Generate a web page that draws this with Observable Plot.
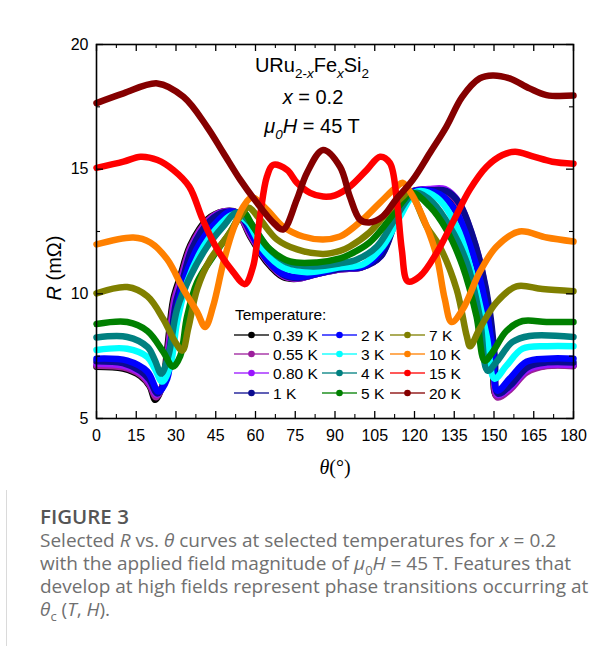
<!DOCTYPE html>
<html>
<head>
<meta charset="utf-8">
<script src="https://cdn.jsdelivr.net/npm/d3@7"></script>
<script src="https://cdn.jsdelivr.net/npm/@observablehq/plot@0.6"></script>
<style>
  html, body { margin: 0; padding: 0; background: #fff; }
  #wrap { position: relative; width: 614px; height: 646px; overflow: hidden; }
  #pageframe { position: absolute; left: 6px; top: 6px; width: 640px; height: 660px;
               border-top: 1px solid #dadada; border-left: 1px solid #dadada; }
  #chart { position: absolute; left: 0; top: 0; }
  #cap { position: absolute; left: 40px; top: 503px; width: 572px; white-space: nowrap;
         font-family: "Open Sans", "Noto Sans", sans-serif; color: #707070; }
  #cap .fig { font-size: 20.5px; font-weight: 600; color: #555; line-height: 26px; }
  #cap .txt { font-size: 19px; line-height: 23px; }
  #cap i { font-style: italic; }
  #cap sub { font-size: 13px; line-height: 0; }
</style>
</head>
<body>
<div id="wrap">
  <div id="pageframe"></div>
  <div id="chart"></div>
  <div id="cap">
    <div class="fig">FIGURE 3</div>
    <div class="txt">Selected <i>R</i> vs. <i>θ</i> curves at selected temperatures for <i>x</i> = 0.2<br>with the applied field magnitude of <i>μ</i><sub>0</sub><i>H</i> = 45 T. Features that<br>develop at high fields represent phase transitions occurring at<br><i>θ</i><sub>c</sub> (<i>T</i>, <i>H</i>).</div>
  </div>
</div>
<script>
// ---------------- data ----------------
const temps  = ["0.39 K","0.55 K","0.80 K","1 K","2 K","3 K","4 K","5 K","7 K","10 K","15 K","20 K"];
const colors = ["#000000","#9c1f9c","#9a14ff","#0b0b8f","#0000ff","#00ffff","#008080","#008000","#808000","#ff8000","#ff0000","#850000"];

const th039 = [0,10,16.6,20,22.2,24.8,26.7,29,31.6,35.4,41.8,47.8,53,58,64.3,70.4,75.7,83,92,100,107,113,119,125,131,136,141,144.5,147.5,149.5,151,156,162,170,180];
const r039  = [7.08,7.0,6.7,6.3,5.75,6.3,7.8,9.8,10.7,11.95,12.98,13.3,13.26,12.3,11.26,10.67,10.6,10.79,10.98,11.06,11.5,13.1,14.1,14.15,14.1,13.6,12.4,11.1,9.3,7.3,5.9,6.2,6.88,7.12,7.12];

const th055 = [0,10,16.6,20,22.5,25,27,29.3,31.9,35.6,42,48,53.2,58.3,64.5,70.6,76,83,92,100,107,113.2,119.5,125,131,136.3,141.3,144.8,147.8,149.8,151.2,156,162.3,170,180];
const r055  = [7.12,7.05,6.75,6.35,5.85,6.35,7.8,9.75,10.65,11.9,12.95,13.3,13.22,12.3,11.3,10.7,10.62,10.8,10.98,11.07,11.5,13.1,14.1,14.18,14.15,13.65,12.4,11.1,9.3,7.35,5.85,6.15,6.85,7.1,7.1];

const th080 = [0,10,16.6,20,22.8,25.3,27.3,29.6,32.2,35.8,42.2,48.2,53.5,58.6,64.8,71,76.2,83.5,92,100.2,107.2,113.5,119.8,125.5,131.5,136.6,141.6,145.1,148.1,150.1,151.4,156.2,162.5,170,180];
const r080  = [7.2,7.12,6.82,6.45,5.95,6.4,7.8,9.7,10.6,11.85,12.92,13.3,13.22,12.3,11.28,10.7,10.62,10.8,10.98,11.07,11.5,13.1,14.1,14.2,14.2,13.7,12.4,11.1,9.3,7.4,5.95,6.25,6.95,7.15,7.15];

const th1   = [0,10,16.6,20,23,25.6,27.6,29.9,32.5,36,42.5,48.5,53.8,59,65,71.2,76.5,84,92,100.4,107.4,113.7,120,126,132,137,142,145.4,148.4,150.3,151.5,156.4,162.6,170,180];
const r1    = [7.3,7.22,6.9,6.55,6.0,6.45,7.75,9.6,10.55,11.8,12.9,13.28,13.2,12.3,11.28,10.72,10.64,10.82,11.0,11.08,11.52,13.1,14.1,14.15,14.12,13.62,12.3,11.0,9.3,7.45,6.0,6.35,7.05,7.25,7.25];

const th2   = [0,11.6,19.2,23.4,26.7,29,32.8,39.2,45.5,50.4,55.4,61.7,69.3,75.7,85.5,92,100.5,107,113.3,119.4,129.5,135.9,142,146.6,149.5,151.3,155.9,162.3,170,180];
const r2    = [7.4,7.32,6.88,6.08,6.6,8.6,10.47,12.06,12.9,13.3,13.06,11.78,10.87,10.67,10.87,11.06,11.1,11.66,13.1,14.1,14.0,13.25,11.6,9.7,7.7,6.12,6.6,7.28,7.4,7.4];

const th3   = [0,11.6,19.2,22,24.8,27.8,30.4,34.2,40.4,46.7,51.6,56.8,62.9,70.4,79.4,91.9,100.5,108,114.5,120.9,128.4,135.9,142,147.2,150.2,154.7,160.8,170,180];
const r3    = [7.75,7.8,7.47,7.0,6.48,7.1,8.87,10.47,11.9,12.78,13.18,12.9,11.78,11.06,10.87,11.06,11.18,11.9,13.1,14.1,13.86,12.7,10.7,8.31,6.6,7.12,7.8,7.9,7.9];

const th4   = [0,11.6,19.2,22,24.4,27.1,30.4,35.4,41.8,47.8,53,58,64.3,71.9,81.7,91.9,98.3,105.8,111.8,118.2,120.9,126.9,133.3,139.7,144.6,147.6,151,157,163.4,180];
const r4    = [8.25,8.27,7.87,7.35,6.8,7.5,9.39,10.7,11.9,12.7,13.26,12.86,11.9,11.26,11.1,11.22,11.38,11.9,12.86,13.9,14.05,13.66,12.7,11.26,9.1,6.92,7.28,8.07,8.31,8.27];

const th5   = [0,11.6,19.2,25.2,28.8,31.6,34.2,38,44,50.4,55.4,59.1,65.5,73,83.2,91.9,95.6,103,109.6,115.2,119,125.8,132,138.2,143.4,146.5,149.5,154.7,160.8,169.8,180];
const r5    = [8.79,8.87,8.51,7.67,7.08,7.51,9.1,10.47,11.5,12.46,13.26,12.7,11.78,11.3,11.26,11.42,11.58,12.06,12.86,13.66,14.05,13.5,12.58,11.1,9.1,7.32,7.67,8.51,8.91,8.87,8.87];

const th7   = [0,11.6,19.2,25.2,29.7,32.4,34.6,38,42.9,49.3,54.2,57.2,61.7,68.1,75.7,85.5,91.9,95.6,103,109.6,115.6,118,124.6,129.5,135.9,139.7,141,144.6,151,158.5,168.3,180];
const r7    = [10.02,10.27,9.9,8.99,8.07,7.72,8.6,10.19,11.38,12.3,13.1,13.46,12.98,12.18,11.78,11.6,11.72,11.9,12.46,13.26,13.9,14.1,12.7,11.9,10.18,8.31,7.9,8.6,9.67,10.3,10.19,10.1];

const th10  = [0,13.9,20.3,26.7,32.8,38,41,44,47.9,51.6,55.4,58.7,64.3,70.4,78,85.5,91.9,94.5,100.5,107,113.3,115.6,119.4,124.6,128.4,131.4,134,138.2,144.6,151,159.6,169.8,180];
const r10   = [11.98,12.26,12.06,11.38,10.18,9.27,8.67,9.5,11.26,12.58,13.5,13.86,13.38,12.7,12.3,12.18,12.3,12.46,12.98,13.66,14.3,14.45,13.9,12.7,11.5,9.8,8.87,9.38,10.87,11.9,12.5,12.26,12.1];

const th15  = [0,10.2,16.6,23,29,35,40,45.5,51.6,56,59.1,61.7,64.3,66.6,71.9,75.7,80.6,85.5,90,95.6,102,107,110.7,113.3,115.2,117.5,122,128.4,134.4,140.8,147.2,153.2,158,165,172,180];
const r15   = [15.05,15.3,15.5,15.37,14.97,14.3,13.0,11.8,10.87,10.39,11.1,13.1,14.7,15.17,14.97,14.45,14.05,13.9,13.95,14.3,14.97,15.5,15.25,13.78,11.78,10.5,10.7,11.65,12.86,14.17,15.1,15.57,15.7,15.5,15.3,15.22];

const th20  = [0,10.2,23,32.8,41.7,47.9,54.2,60.5,66.7,70.4,75.6,79.4,85.5,91.9,95.6,99.4,103,108,113,119.4,125.8,132,138,144.6,149.5,155.9,163.4,169.8,180];
const r20   = [17.65,18.04,18.44,17.9,16.7,15.65,14.58,13.66,12.86,12.58,13.78,14.85,15.77,15.1,13.9,12.98,12.86,13.1,13.78,14.58,15.65,16.7,17.9,18.64,18.76,18.64,18.24,17.97,17.95];

const xMajor = [0,15,30,45,60,75,90,105,120,135,150,165,180];
const xMinor = [7.5,22.5,37.5,52.5,67.5,82.5,97.5,112.5,127.5,142.5,157.5,172.5];
const yMajor = [5,10,15,20];
const yMinor = [7.5,12.5,17.5];

// ---------------- build table ----------------
const seriesTheta = [th039,th055,th080,th1,th2,th3,th4,th5,th7,th10,th15,th20];
const seriesR     = [r039,r055,r080,r1,r2,r3,r4,r5,r7,r10,r15,r20];
const rows = temps.flatMap((t, i) => seriesTheta[i].map((th, j) => ({T: t, theta: th, R: seriesR[i][j]})));

const W = 614, H = 490, mT = 44, mB = 72, mL = 96, mR = 41;
const plotH = H - mT - mB, plotW = W - mL - mR;
const font = "'Liberation Sans', Arial, sans-serif";

const plot = Plot.plot({
  width: W, height: H,
  marginTop: mT, marginBottom: mB, marginLeft: mL, marginRight: mR,
  x: {domain: [0, 180]},
  y: {domain: [5, 20]},
  color: {domain: temps, range: colors},
  style: {fontFamily: font, fontSize: "16px", color: "#000", background: "#fff", overflow: "visible"},
  marks: [
    Plot.line(rows, {x: "theta", y: "R", z: "T", stroke: "T", strokeWidth: 6.5,
      curve: "catmull-rom", strokeLinecap: "round", strokeLinejoin: "round"}),
    Plot.frame({stroke: "#000", strokeWidth: 1.6}),
    Plot.tickX(xMajor, {x: d => d, insetTop: plotH - 7, stroke: "#000", strokeWidth: 1.3}),
    Plot.tickX(xMajor, {x: d => d, insetBottom: plotH - 7, stroke: "#000", strokeWidth: 1.3}),
    Plot.tickX(xMinor, {x: d => d, insetTop: plotH - 4, stroke: "#000", strokeWidth: 1.1}),
    Plot.tickX(xMinor, {x: d => d, insetBottom: plotH - 4, stroke: "#000", strokeWidth: 1.1}),
    Plot.tickY(yMajor, {y: d => d, insetRight: plotW - 7, stroke: "#000", strokeWidth: 1.3}),
    Plot.tickY(yMajor, {y: d => d, insetLeft: plotW - 7, stroke: "#000", strokeWidth: 1.3}),
    Plot.tickY(yMinor, {y: d => d, insetRight: plotW - 4, stroke: "#000", strokeWidth: 1.1}),
    Plot.tickY(yMinor, {y: d => d, insetLeft: plotW - 4, stroke: "#000", strokeWidth: 1.1}),
    Plot.axisX({ticks: xMajor, tickSize: 0, tickPadding: 11, label: null, tickFormat: d => String(d)}),
    Plot.axisY({ticks: yMajor, tickSize: 0, tickPadding: 8, label: null, tickFormat: d => String(d)})
  ]
});
document.getElementById("chart").appendChild(plot);

// ---------------- text overlays ----------------
const svg = d3.select(plot);

// compound annotation
const ann = svg.append("g").attr("font-family", font).attr("font-size", 20).attr("fill", "#000").attr("text-anchor", "middle");
const l1 = ann.append("text").attr("x", 312).attr("y", 72);
l1.append("tspan").text("URu");
l1.append("tspan").attr("font-size", 13.5).attr("dy", 6).text("2-");
l1.append("tspan").attr("font-size", 13.5).attr("font-style", "italic").text("x");
l1.append("tspan").attr("dy", -6).text("Fe");
l1.append("tspan").attr("font-size", 13.5).attr("dy", 6).attr("font-style", "italic").text("x");
l1.append("tspan").attr("dy", -6).text("Si");
l1.append("tspan").attr("font-size", 13.5).attr("dy", 6).text("2");
const l2 = ann.append("text").attr("x", 313).attr("y", 104);
l2.append("tspan").attr("font-style", "italic").text("x");
l2.append("tspan").text(" = 0.2");
const l3 = ann.append("text").attr("x", 312).attr("y", 133);
l3.append("tspan").attr("font-style", "italic").text("μ");
l3.append("tspan").attr("font-size", 13.5).attr("dy", 6).attr("font-style", "italic").text("0");
l3.append("tspan").attr("dy", -6).attr("font-style", "italic").text("H");
l3.append("tspan").text(" = 45 T");

// axis labels
const yl = svg.append("text").attr("font-family", font).attr("font-size", 20)
  .attr("text-anchor", "middle").attr("transform", "translate(61,268) rotate(-90)");
yl.append("tspan").attr("font-style", "italic").text("R");
yl.append("tspan").text(" (mΩ)");

const xl = svg.append("text").attr("font-family", "'Liberation Serif', 'Times New Roman', serif")
  .attr("font-size", 20).attr("text-anchor", "middle").attr("x", 335).attr("y", 474);
xl.append("tspan").attr("font-style", "italic").text("θ");
xl.append("tspan").text("(°)");

// legend
const leg = svg.append("g").attr("font-family", font).attr("font-size", 15.5).attr("text-anchor", "start");
leg.append("text").attr("x", 235).attr("y", 320).text("Temperature:");
const colX = [234, 322, 390];
const rowY = [335, 354, 373, 393];
temps.forEach((t, i) => {
  const c = Math.floor(i / 4), r = i % 4;
  const x0 = colX[c], y0 = rowY[r];
  leg.append("line").attr("x1", x0).attr("x2", x0 + 35).attr("y1", y0).attr("y2", y0)
    .attr("stroke", colors[i]).attr("stroke-width", 2).attr("stroke-opacity", 0.65);
  leg.append("circle").attr("cx", x0 + 17.5).attr("cy", y0).attr("r", 3.3).attr("fill", colors[i]);
  leg.append("text").attr("x", x0 + 39).attr("y", y0 + 5.5).text(t);
});
</script>
</body>
</html>
